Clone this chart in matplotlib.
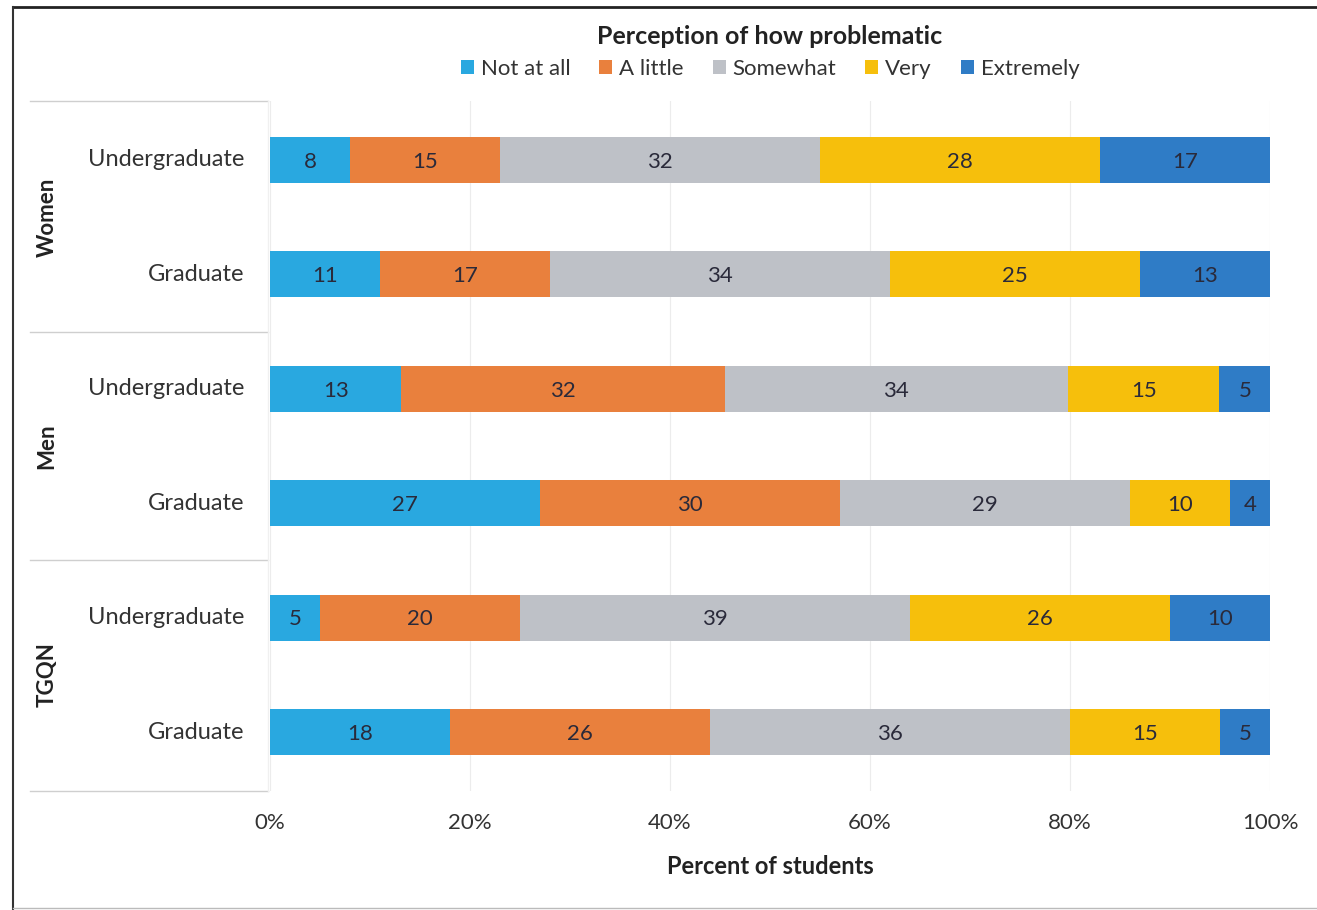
import matplotlib
matplotlib.use("Agg")
import matplotlib.pyplot as plt
import numpy as np
from matplotlib.patches import Patch
from matplotlib.lines import Line2D
from matplotlib.transforms import blended_transform_factory

plt.rcParams['font.family'] = ['Lato', 'DejaVu Sans']

groups = ["Women", "Men", "TGQN"]
categories = ["Undergraduate", "Graduate", "Undergraduate", "Graduate", "Undergraduate", "Graduate"]
series_names = ["Not at all", "A little", "Somewhat", "Very", "Extremely"]
not_at_all = [8, 11, 13, 27, 5, 18]
a_little = [15, 17, 32, 30, 20, 26]
somewhat = [32, 34, 34, 29, 39, 36]
very = [28, 25, 15, 10, 26, 15]
extremely = [17, 13, 5, 4, 10, 5]
xticks = [0, 20, 40, 60, 80, 100]
xtick_labels = ["0%", "20%", "40%", "60%", "80%", "100%"]

colors = ["#29A8E0", "#E9803D", "#BEC1C7", "#F6BF0C", "#2F7CC6"]
text_color = "#2a2a3a"

W, H = 1317, 910
fig = plt.figure(figsize=(W / 100, H / 100), dpi=100)
ax = fig.add_axes([270 / W, 1 - 791 / H, 1000 / W, 690 / H])

data = np.array([not_at_all, a_little, somewhat, very, extremely], dtype=float)
totals = data.sum(axis=0)
pct = data / totals * 100
y = np.arange(len(categories))
left = np.zeros(len(categories))
for i, name in enumerate(series_names):
    ax.barh(y, pct[i], left=left, height=0.4, color=colors[i], label=name, zorder=3)
    for j in range(len(categories)):
        ax.text(left[j] + pct[i][j] / 2, y[j] + 0.015, f"{int(data[i][j])}", ha="center", va="center",
                fontsize=16, color=text_color, zorder=4)
    left += pct[i]

ax.set_xlim(0, 100)
ax.set_ylim(5.515, -0.515)
ax.set_xticks(xticks)
ax.set_xticklabels(xtick_labels, fontsize=16, color="#333333")
ax.tick_params(axis="x", length=0, pad=16)
ax.set_yticks([])
for s in ax.spines.values():
    s.set_visible(False)
ax.grid(axis="x", color="#ececec", linewidth=0.8, zorder=0)
ax.set_xlabel("Percent of students", fontsize=17, fontweight="bold", color="#222222", labelpad=16)

# category labels
for j, c in enumerate(categories):
    ax.text(-2.6, y[j], c, ha="right", va="center", fontsize=17, color="#333333",
            transform=ax.transData)

# group labels and separators
tr = blended_transform_factory(fig.transFigure, ax.transData)
for g, name in enumerate(groups):
    ax.text(47 / W, 2 * g + 0.5, name, rotation=90, ha="center", va="center", fontsize=16,
            fontweight="bold", color="#222222", transform=tr)
for yy in [-0.515, 1.5, 3.5, 5.515]:
    ax.add_line(Line2D([30 / W, 268 / W], [yy, yy], transform=tr, color="#cfcfcf",
                       linewidth=1.0, clip_on=False))
ax.add_line(Line2D([268 / W, 268 / W], [-0.515, 5.515], transform=tr, color="#f0f0f0",
                   linewidth=1.0, clip_on=False))

# title and legend
fig.text(770 / W, 1 - 36 / H, "Perception of how problematic", ha="center", va="center",
         fontsize=18, fontweight="bold", color="#222222")
handles = [Patch(facecolor=colors[i], edgecolor="none", label=series_names[i]) for i in range(5)]
leg = fig.legend(handles=handles, loc="center", bbox_to_anchor=(770 / W, 1 - 69 / H), ncol=5,
                 frameon=False, fontsize=16, handlelength=0.6, handleheight=0.6,
                 handletextpad=0.3, columnspacing=1.3)
for t in leg.get_texts():
    t.set_color("#333333")

# outer frame
fig.add_artist(Line2D([13 / W, 1.0], [1 - 7 / H, 1 - 7 / H], transform=fig.transFigure,
                      color="#222222", linewidth=2))
fig.add_artist(Line2D([13 / W, 13 / W], [0, 1 - 7 / H], transform=fig.transFigure,
                      color="#333333", linewidth=1.5))
fig.add_artist(Line2D([13 / W, 1.0], [2 / H, 2 / H], transform=fig.transFigure,
                      color="#bbbbbb", linewidth=1.0))

fig.savefig("out.png", dpi=100)
